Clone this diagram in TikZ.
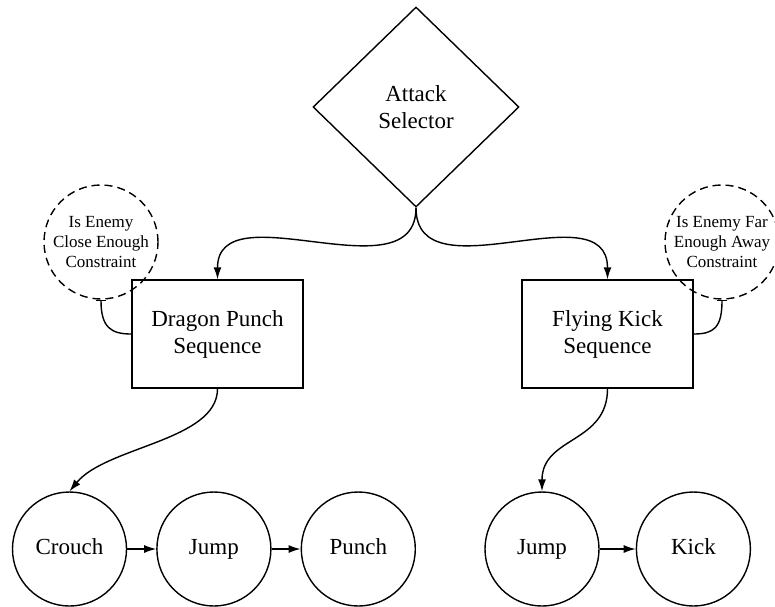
\documentclass[tikz,border=0pt]{standalone}
\usepackage{fontspec}
\setmainfont{Liberation Serif}
\usetikzlibrary{arrows.meta,positioning,shapes.geometric}

\begin{document}
\begin{tikzpicture}[
  x=0.5pt, y=-0.5pt,
  line width=0.7pt,
  node distance=14.5pt,
  selector/.style={draw, diamond, aspect=1, inner sep=0pt, align=center,
                   minimum width=103pt, minimum height=100pt,
                   font=\fontsize{11.5}{13.5}\selectfont},
  seqbox/.style={draw, rectangle, align=center, minimum width=85.5pt,
                 minimum height=54pt, font=\fontsize{11.5}{13.5}\selectfont},
  action/.style={draw, circle, inner sep=0pt, minimum size=57pt,
                 text height=1.6ex, text depth=0.5ex,
                 font=\fontsize{11.5}{13.5}\selectfont},
  guard/.style={draw, circle, dash pattern=on 4pt off 2.5pt, inner sep=0pt,
                minimum size=57pt, align=center,
                font=\fontsize{8.5}{10}\selectfont},
  arrow/.style={-{Latex[length=6pt,width=4pt]}},
  hook/.style={arrows={Bar[width=5pt]-}}
]
  \useasboundingbox (0,0) rectangle (775,606);

  \node[selector] (sel) at (416,107) {Attack\\Selector};
  \node[seqbox] (dragon) at (217.5,334) {Dragon Punch\\Sequence};
  \node[seqbox] (flying) at (607.5,334) {Flying Kick\\Sequence};
  \node[guard] (close) at (101,242) {Is Enemy\\Close Enough\\Constraint};
  \node[guard] (far) at (722,242) {Is Enemy Far\\Enough Away\\Constraint};

  \node[action] (crouch) at (69.5,549) {Crouch};
  \node[action, right=of crouch] (jumpA) {Jump};
  \node[action, right=of jumpA] (punch) {Punch};
  \node[action] (jumpB) at (542,549) {Jump};
  \node[action, right=18pt of jumpB] (kick) {Kick};

  \draw[arrow] (sel.south) .. controls +(0,90) and +(0,-90) .. (dragon.north);
  \draw[arrow] (sel.south) .. controls +(0,90) and +(0,-90) .. (flying.north);
  \draw[arrow] (dragon.south) .. controls +(0,52) and +(37,-45) .. (crouch.north);
  \draw[arrow] (flying.south) .. controls +(0,55) and +(0,-55) .. (jumpB.north);
  \draw[arrow] (crouch) -- (jumpA);
  \draw[arrow] (jumpA) -- (punch);
  \draw[arrow] (jumpB) -- (kick);
  \draw[hook] (close.south) .. controls +(0,28) and +(-20,0) .. (dragon.west);
  \draw[hook] (far.south) .. controls +(0,28) and +(20,0) .. (flying.east);
\end{tikzpicture}
\end{document}
